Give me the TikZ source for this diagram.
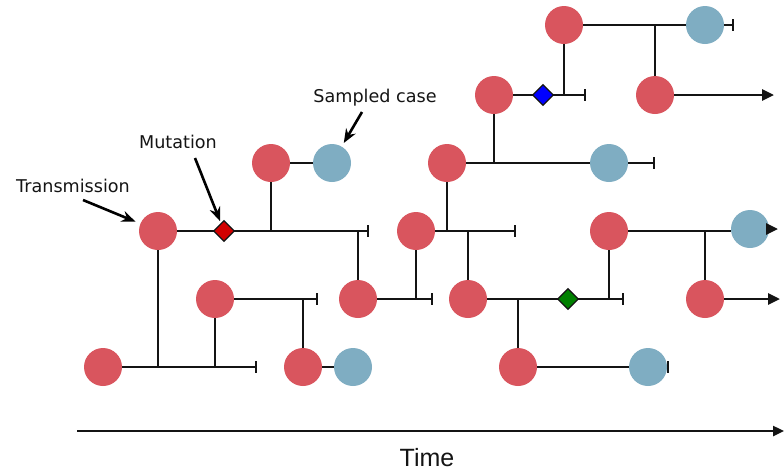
\documentclass[tikz,border=0pt]{standalone}
\usepackage{fontspec}
\setmainfont{DejaVu Sans}
\newfontfamily\timefont{Liberation Sans}
\usetikzlibrary{arrows.meta,shapes.geometric}
\definecolor{infred}{RGB}{217,85,94}
\definecolor{smpblue}{RGB}{127,173,194}
\definecolor{mutred}{RGB}{210,0,0}
\definecolor{mutblue}{RGB}{0,0,255}
\definecolor{mutgreen}{RGB}{0,128,0}
\definecolor{ln}{RGB}{20,20,20}
\begin{document}
\begin{tikzpicture}[x=1pt,y=-1pt,
  inf/.style={circle,fill=infred,minimum size=38pt,inner sep=0pt},
  smp/.style={circle,fill=smpblue,minimum size=38pt,inner sep=0pt},
  mut/.style={diamond,draw=ln,line width=1.3pt,minimum size=21pt,inner sep=0pt},
  br/.style={line width=2.8pt,draw=ln},
  endbar/.style={br,-{Bar[width=12pt,line width=2.4pt]}},
  cont/.style={br,-{Triangle[length=12pt,width=11pt]}},
  ann/.style={line width=2.6pt,draw=black,-{Stealth[length=14pt,width=11pt]}},
  lbl/.style={font=\fontsize{17.6}{20}\selectfont,text=ln,inner sep=0pt}
]
\useasboundingbox (0,0) rectangle (784,472);

% circles
\node[inf] (a1) at (103,367) {};
\node[inf] (a2) at (303,367) {};
\node[smp] (a3) at (353,367) {};
\node[inf] (a4) at (518,367) {};
\node[smp] (a5) at (648,367) {};
\node[inf] (b1) at (215,299) {};
\node[inf] (b2) at (358,299) {};
\node[inf] (b3) at (468,299) {};
\node[inf] (b4) at (705,299) {};
\node[inf] (c1) at (158,231) {};
\node[inf] (c2) at (416,231) {};
\node[inf] (c3) at (609,231) {};
\node[smp] (c4) at (750,229) {};
\node[inf] (d1) at (271,163) {};
\node[smp] (d2) at (332,163) {};
\node[inf] (d3) at (447,163) {};
\node[smp] (d4) at (609,163) {};
\node[inf] (e1) at (494,95) {};
\node[inf] (e2) at (655,95) {};
\node[inf] (f1) at (564,25) {};
\node[smp] (f2) at (705,25) {};

% junctions and ends
\coordinate (xa1) at (257,367);
\coordinate (ja1) at (158,367);
\coordinate (ja2) at (215,367);
\coordinate (xa5) at (669,367);
\coordinate (xb1) at (318,299);
\coordinate (jb1) at (303,299);
\coordinate (xb2) at (433,299);
\coordinate (jb2) at (416,299);
\coordinate (xb3) at (624,299);
\coordinate (jb3) at (518,299);
\coordinate (jb4) at (609,299);
\coordinate (xb4) at (780,299);
\coordinate (xc1) at (369,231);
\coordinate (jc1) at (271,231);
\coordinate (jc2) at (358,231);
\coordinate (xc2) at (516,231);
\coordinate (jc3) at (447,231);
\coordinate (jc4) at (468,231);
\coordinate (xc4) at (778,229);
\coordinate (jc5) at (705,231);
\coordinate (xd4) at (655,163);
\coordinate (jd1) at (494,163);
\coordinate (xe1) at (586,95);
\coordinate (je1) at (564,95);
\coordinate (xe2) at (774,95);
\coordinate (xf2) at (734,25);
\coordinate (jf1) at (655,25);

% branches
\draw[endbar] (a1) -- (xa1);
\draw[br] (ja1) -- (c1);
\draw[br] (ja2) -- (b1);
\draw[br] (a2) -- (a3);
\draw[br] (a4) -- (a5);
\draw[endbar] (a5) -- (xa5);
\draw[endbar] (b1) -- (xb1);
\draw[br] (jb1) -- (a2);
\draw[endbar] (b2) -- (xb2);
\draw[br] (jb2) -- (c2);
\draw[endbar] (b3) -- (xb3);
\draw[br] (jb3) -- (a4);
\draw[br] (jb4) -- (c3);
\draw[cont] (b4) -- (xb4);
\draw[endbar] (c1) -- (xc1);
\draw[br] (jc1) -- (d1);
\draw[br] (jc2) -- (b2);
\draw[endbar] (c2) -- (xc2);
\draw[br] (jc3) -- (d3);
\draw[br] (jc4) -- (b3);
\draw[br] (c3) -- (c3 -| c4.west);
\draw[cont] (c4.east) -- (xc4);
\draw[br] (jc5) -- (b4);
\draw[br] (d1) -- (d2);
\draw[br] (d3) -- (d4);
\draw[endbar] (d4) -- (xd4);
\draw[br] (jd1) -- (e1);
\draw[endbar] (e1) -- (xe1);
\draw[br] (je1) -- (f1);
\draw[cont] (e2) -- (xe2);
\draw[br] (f1) -- (f2);
\draw[endbar] (f2) -- (xf2);
\draw[br] (jf1) -- (e2);

% mutations
\node[mut,fill=mutred] (m1) at (224,231) {};
\node[mut,fill=mutblue] (m2) at (543,95) {};
\node[mut,fill=mutgreen] (m3) at (568,299) {};

% annotations
\node[lbl] (lt) at (73,186) {Transmission};
\node[lbl] (lm) at (178,142) {Mutation};
\node[lbl] (ls) at (375,98) {Sampled case};
\coordinate (st) at (83,200);
\coordinate (sm) at (195,158);
\coordinate (ss) at (362,112);
\draw[ann,shorten >=5pt] (st) -- (c1);
\draw[ann,shorten >=2pt] (sm) -- (m1);
\draw[ann,shorten >=4pt] (ss) -- (d2);

% time axis
\coordinate (t0) at (77,431);
\coordinate (t1) at (784,431);
\draw[br,line width=2.4pt,-{Triangle[length=11pt,width=10pt]}] (t0) -- (t1);
\node[font=\timefont\fontsize{25}{28}\selectfont,text=ln] (tl) at (427,458) {Time};
\end{tikzpicture}
\end{document}
